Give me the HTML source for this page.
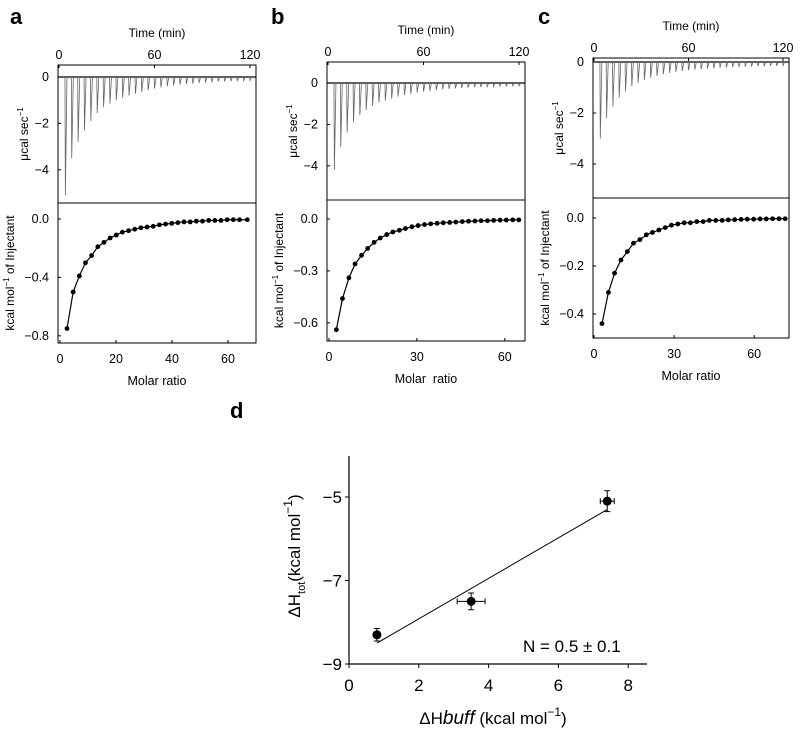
<!DOCTYPE html>
<html><head><meta charset="utf-8"><style>
body{margin:0;background:#fff;}
svg{font-family:"Liberation Sans",Arial,sans-serif;}
</style></head><body>
<svg id="fig" width="800" height="733" viewBox="0 0 800 733"></svg>
<script>
// ---- Data ----
const injTimes=[4,8,12,16,20,24,28,32,36,40,44,48,52,56,60,64,68,72,76,80,84,88,92,96,100,104,108,112,116,120];
const peaksA=[-5.1,-3.5,-2.8,-2.3,-1.9,-1.55,-1.3,-1.15,-1.0,-0.9,-0.8,-0.72,-0.65,-0.58,-0.5,-0.45,-0.4,-0.36,-0.33,-0.3,-0.28,-0.26,-0.24,-0.22,-0.2,-0.19,-0.18,-0.17,-0.16,-0.15];
const peaksB=[-4.2,-3.1,-2.4,-1.9,-1.55,-1.3,-1.1,-0.95,-0.85,-0.75,-0.65,-0.58,-0.52,-0.46,-0.42,-0.38,-0.34,-0.3,-0.28,-0.26,-0.24,-0.22,-0.2,-0.19,-0.18,-0.17,-0.16,-0.15,-0.14,-0.14];
const peaksC=[-3.0,-2.2,-1.75,-1.4,-1.15,-0.95,-0.82,-0.7,-0.62,-0.55,-0.48,-0.43,-0.39,-0.35,-0.32,-0.3,-0.28,-0.26,-0.24,-0.22,-0.21,-0.2,-0.19,-0.18,-0.17,-0.16,-0.16,-0.15,-0.15,-0.14];
const molarA=[2.5,4.7,6.9,9.1,11.3,13.5,15.7,17.9,20.1,22.3,24.5,26.7,28.9,31.1,33.3,35.5,37.7,39.9,42.1,44.3,46.5,48.7,50.9,53.1,55.3,57.5,59.7,61.9,64.1,66.9];
const heatA=[-0.75,-0.5,-0.39,-0.3,-0.25,-0.19,-0.16,-0.13,-0.11,-0.09,-0.08,-0.07,-0.06,-0.055,-0.05,-0.04,-0.035,-0.03,-0.025,-0.02,-0.02,-0.015,-0.015,-0.01,-0.01,-0.01,-0.005,-0.005,-0.005,-0.005];
const molarB=[2.5,4.6,6.8,8.9,11.1,13.2,15.4,17.5,19.7,21.8,24.0,26.1,28.3,30.4,32.6,34.7,36.9,39.0,41.2,43.3,45.5,47.6,49.8,51.9,54.1,56.2,58.4,60.5,62.7,64.8];
const heatB=[-0.64,-0.46,-0.34,-0.26,-0.21,-0.17,-0.135,-0.11,-0.09,-0.075,-0.065,-0.055,-0.045,-0.038,-0.032,-0.028,-0.025,-0.022,-0.02,-0.018,-0.015,-0.013,-0.012,-0.01,-0.01,-0.008,-0.007,-0.006,-0.005,-0.005];
const molarC=[3.0,5.4,7.7,10.1,12.5,14.8,17.2,19.6,21.9,24.3,26.7,29.0,31.4,33.8,36.1,38.5,40.9,43.2,45.6,48.0,50.3,52.7,55.1,57.4,59.8,62.2,64.5,66.9,69.3,71.6];
const heatC=[-0.44,-0.31,-0.23,-0.175,-0.14,-0.105,-0.09,-0.07,-0.06,-0.05,-0.04,-0.03,-0.025,-0.02,-0.02,-0.015,-0.015,-0.01,-0.01,-0.01,-0.008,-0.007,-0.006,-0.005,-0.005,-0.004,-0.004,-0.003,-0.003,-0.003];
const timeTicks=[0,60,120];
const rawTicks=[0,-2,-4];
const bindTicksA=[0,-0.4,-0.8], bindTicksB=[0,-0.3,-0.6], bindTicksC=[0,-0.2,-0.4];
const molarTicksA=[0,20,40,60], molarTicksBC=[0,30,60];
// panel d
const dHbuff=[0.8,3.5,7.4];
const dHtot=[-8.3,-7.5,-5.1];
const xErr=[0.0,0.4,0.2];
const yErr=[0.15,0.2,0.25];
const fitX=[0.8,7.4], fitY=[-8.5,-5.3];
const dXTicks=[0,2,4,6,8], dYTicks=[-5,-7,-9];

const NS="http://www.w3.org/2000/svg";
const svg=document.getElementById('fig');
function mk(tag,attrs,parent){const e=document.createElementNS(NS,tag);for(const k in attrs)e.setAttribute(k,attrs[k]);(parent||svg).appendChild(e);return e;}
function txt(s,x,y,size,parent,anchor,extra){const t=mk('text',Object.assign({x:x,y:y,'font-size':size,'text-anchor':anchor||'middle',fill:'#000'},extra||{}),parent);t.innerHTML=s;return t;}

function panel(p){
  const g=mk('g',{});
  
  
  const tx=t=>p.t0+(t/120)*(p.t120-p.t0);
  const ry=v=>p.raw0+(-v)*p.rawScale;
  const mx=m=>p.m0+m*p.mScale;
  const by=v=>p.b0-v*p.bScale;
  const lbl=txt(p.id,p.letterX,24,22,g,'start',{'font-weight':'bold'});
  
  
  const f1=mk('rect',{x:p.x0,y:p.top,width:p.x1-p.x0,height:p.mid-p.top,fill:'none',stroke:'#000','stroke-width':1},g);
  
  
  const f2=mk('polyline',{points:`${p.x0},${p.mid} ${p.x0},${p.bot} ${p.x1},${p.bot} ${p.x1},${p.mid}`,fill:'none',stroke:'#000','stroke-width':1},g);
  
  
  mk('line',{x1:p.x0,y1:ry(0),x2:p.x1,y2:ry(0),stroke:'#000','stroke-width':1.2},g);
  const tt=txt('Time (min)',(p.x0+p.x1)/2,p.top-28,12,g);
  
  
  timeTicks.forEach(t=>{mk('line',{x1:tx(t),y1:p.top,x2:tx(t),y2:p.top+3,stroke:'#000'},g);txt(t,tx(t),p.top-6,12.5,g);});
  rawTicks.forEach(v=>{mk('line',{x1:p.x0,y1:ry(v),x2:p.x0+3,y2:ry(v),stroke:'#000'},g);txt(v.toString().replace('-','−'),p.x0-9,ry(v)+4,12.5,g,'end');});
  let d='';
  injTimes.forEach((t,i)=>{const x=tx(t);d+=`M${x-0.4},${ry(0)} L${x},${ry(p.peaks[i])} L${x+1.6},${ry(0)} `;});
  const sp=mk('path',{d:d,fill:'none',stroke:'#666','stroke-width':0.8},g);
  
  
  const yl1=txt('μcal sec<tspan font-size="8" dy="-5">−1</tspan>',0,0,12,g,'middle',{transform:`translate(${p.x0-30},${(p.top+p.mid)/2}) rotate(-90)`});
  
  
  p.bTicks.forEach(v=>{mk('line',{x1:p.x0,y1:by(v),x2:p.x0+3,y2:by(v),stroke:'#000'},g);txt(v.toFixed(1).replace('-','−'),p.x0-9,by(v)+4,12.5,g,'end');});
  p.mTicks.forEach(m=>{mk('line',{x1:mx(m),y1:p.bot,x2:mx(m),y2:p.bot-3,stroke:'#000'},g);txt(m,mx(m),p.bot+20,12.5,g);});
  const line=mk('polyline',{points:p.molar.map((m,i)=>mx(m)+','+by(p.heat[i])).join(' '),fill:'none',stroke:'#000','stroke-width':1.2},g);
  
  
  p.molar.forEach((m,i)=>{const c=mk('circle',{cx:mx(m),cy:by(p.heat[i]),r:2.4,fill:'#000'},g);
    
    });
  const yl2=txt('kcal mol<tspan font-size="8" dy="-5">−1</tspan><tspan dy="5"> of Injectant</tspan>',0,0,12,g,'middle',{transform:`translate(${p.x0-44},${(p.mid+p.bot)/2}) rotate(-90)`});
  
  
  const xl=txt(p.molarLabel,(p.x0+p.x1)/2,p.bot+42,12.5,g);
  
  
}
panel({id:'a',letterX:10,x0:58,x1:256,top:65,mid:203,bot:343,t0:59,t120:250,raw0:77,rawScale:23.2,peaks:peaksA,b0:219,bScale:146,bTicks:bindTicksA,m0:60,mScale:2.8,mTicks:molarTicksA,molar:molarA,heat:heatA,molarLabel:'Molar ratio'});
panel({id:'b',letterX:271,x0:327,x1:525,top:62,mid:200,bot:341,t0:328,t120:519,raw0:83,rawScale:20.7,peaks:peaksB,b0:219,bScale:173,bTicks:bindTicksB,m0:329,mScale:2.93,mTicks:molarTicksBC,molar:molarB,heat:heatB,molarLabel:'Molar&#160; ratio'});
panel({id:'c',letterX:538,x0:593,x1:789,top:58,mid:198,bot:338,t0:594,t120:783,raw0:62,rawScale:25.5,peaks:peaksC,b0:218,bScale:240,bTicks:bindTicksC,m0:594,mScale:2.67,mTicks:molarTicksBC,molar:molarC,heat:heatC,molarLabel:'Molar ratio'});

// ---- Panel d ----
(function(){
  const g=mk('g',{});
  
  
  const X=v=>349+v*34.9, Y=v=>497+(-5-v)*41.75;
  const L=txt('d',230,418,22,g,'start',{'font-weight':'bold'});
  
  
  mk('line',{x1:349,y1:456,x2:349,y2:664,stroke:'#000','stroke-width':1.2},g);
  mk('line',{x1:349,y1:664,x2:647,y2:664,stroke:'#000','stroke-width':1.2},g);
  dXTicks.forEach(v=>{mk('line',{x1:X(v),y1:664,x2:X(v),y2:668,stroke:'#000'},g);txt(v,X(v),691,17,g);});
  dYTicks.forEach(v=>{mk('line',{x1:345,y1:Y(v),x2:349,y2:Y(v),stroke:'#000'},g);txt('−'+Math.abs(v),342,Y(v)+6,17,g,'end');});
  const fit=mk('line',{x1:X(fitX[0]),y1:Y(fitY[0]),x2:X(fitX[1]),y2:Y(fitY[1]),stroke:'#000','stroke-width':1},g);
  
  
  dHbuff.forEach((v,i)=>{
    const cx=X(v),cy=Y(dHtot[i]);
    if(xErr[i]>0){const x1=X(v-xErr[i]),x2=X(v+xErr[i]);
      mk('line',{x1:x1,y1:cy,x2:x2,y2:cy,stroke:'#000'},g);
      mk('line',{x1:x1,y1:cy-3,x2:x1,y2:cy+3,stroke:'#000'},g);
      mk('line',{x1:x2,y1:cy-3,x2:x2,y2:cy+3,stroke:'#000'},g);}
    const y1=Y(dHtot[i]+yErr[i]),y2=Y(dHtot[i]-yErr[i]);
    mk('line',{x1:cx,y1:y1,x2:cx,y2:y2,stroke:'#000'},g);
    mk('line',{x1:cx-3,y1:y1,x2:cx+3,y2:y1,stroke:'#000'},g);
    mk('line',{x1:cx-3,y1:y2,x2:cx+3,y2:y2,stroke:'#000'},g);
    const c=mk('circle',{cx:cx,cy:cy,r:4.5,fill:'#000'},g);
    
    
  });
  const n=txt('N = 0.5 ± 0.1',523,652,17,g,'start');
  
  
  const xl=txt('ΔH<tspan font-style="italic" font-size="19">buff</tspan> (kcal mol<tspan font-size="12" dy="-8">−1</tspan><tspan dy="8">)</tspan>',493,724,17,g);
  
  
  const yl=txt('ΔH<tspan font-size="11" dy="5">tot</tspan><tspan dy="-5">(kcal mol</tspan><tspan font-size="12" dy="-8">−1</tspan><tspan dy="8">)</tspan>',0,0,17,g,'middle',{transform:'translate(300,556) rotate(-90)'});
  
  
})();
</script>
</body></html>
